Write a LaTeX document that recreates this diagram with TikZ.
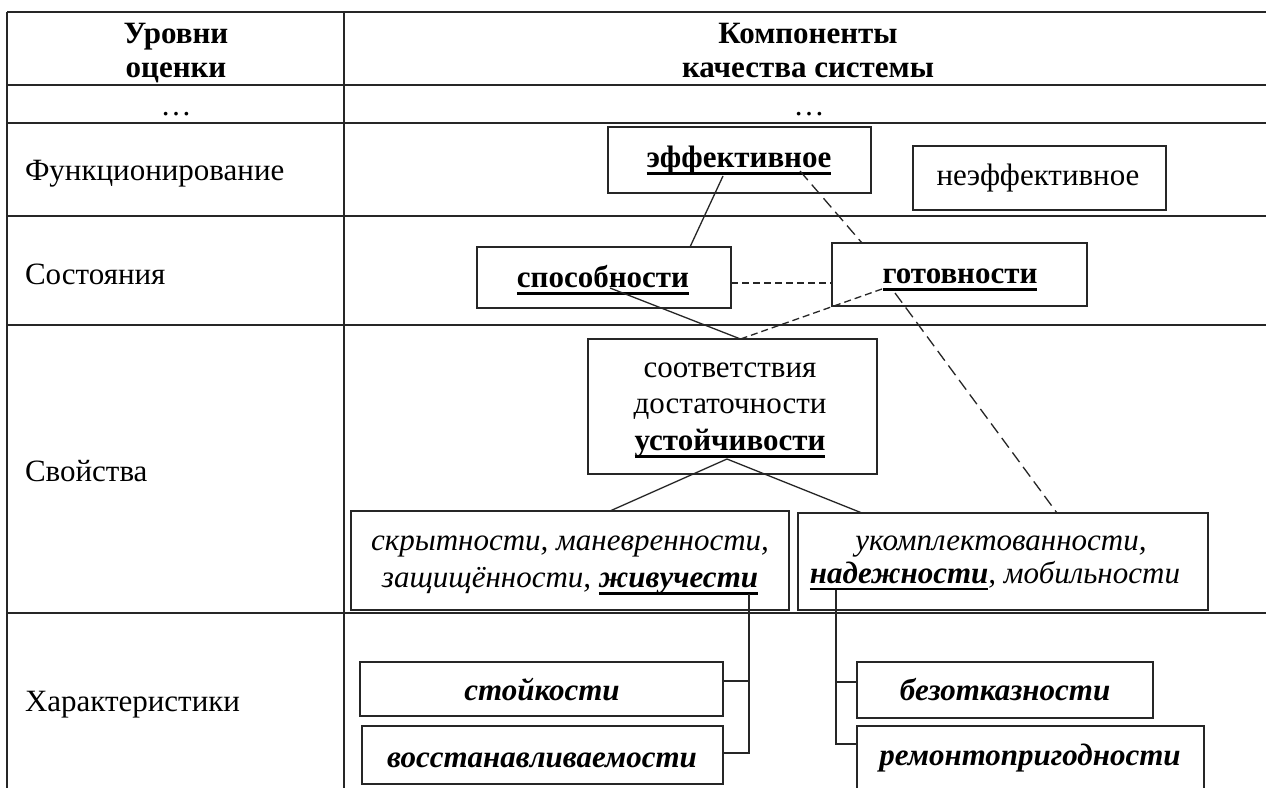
\documentclass[tikz,border=0pt]{standalone}
\usepackage{fontspec}
\setmainfont{Liberation Serif}
\usetikzlibrary{calc}

% thick rule under a word: #1 thickness, #2 drop below baseline, #3 text
\newcommand\ulword[3]{\setbox0\hbox{#3}\rlap{\rule[-#2]{\wd0}{#1}}\box0}
\newcommand\ulb[1]{\ulword{3pt}{7.5pt}{\textbf{#1}}}

\begin{document}
\begin{tikzpicture}[x=1pt,y=-1pt,
  every node/.style={font=\fontsize{31}{36}\selectfont, inner sep=0pt, outer sep=0pt},
  txt/.style={anchor=base},
  lbl/.style={anchor=base west},
  grid/.style={line width=2pt, draw=black!85},
  box/.style={draw=black!85, line width=1.8pt, fill=white},
  link/.style={line width=1.3pt, draw=black!85},
  longdash/.style={link, dash pattern=on 12pt off 6pt},
  shortdash/.style={link, dash pattern=on 7pt off 4pt}]

\useasboundingbox (0,0) rectangle (1266,787);
\clip (0,0) rectangle (1266,787);
\fill[white] (0,0) rectangle (1266,787);

% table grid
\foreach \yy in {12,85,123,216,325,613}
  \draw[grid] (7,\yy) -- (1266,\yy);
\draw[grid] (7,12) -- (7,790);
\draw[grid] (344,12) -- (344,790);

% header
\node[txt] (hA1) at (176,43) {\textbf{Уровни}};
\node[txt] (hA2) at (176,77) {\textbf{оценки}};
\node[txt] (hB1) at (808,43) {\textbf{Компоненты}};
\node[txt] (hB2) at (808,77) {\textbf{качества системы}};
\node[txt] (dotA) at (176,115) {…};
\node[txt] (dotB) at (809,115) {…};

% level names
\node[lbl] (lvl1) at (25,180) {Функционирование};
\node[lbl] (lvl2) at (25,284) {Состояния};
\node[lbl] (lvl3) at (25,481) {Свойства};
\node[lbl] (lvl4) at (25,711) {Характеристики};

% boxes
\node[box, minimum width=263pt, minimum height=66pt] (effbox) at (739.5,160) {};
\node[box, minimum width=253pt, minimum height=64pt] (neeffbox) at (1039.5,178) {};
\node[box, minimum width=254pt, minimum height=61pt] (sposbox) at (604,277.5) {};
\node[box, minimum width=255pt, minimum height=63pt] (gotbox) at (959.5,274.5) {};
\node[box, minimum width=289pt, minimum height=135pt] (ustbox) at (732.5,406.5) {};
\node[box, minimum width=438pt, minimum height=99pt] (skrbox) at (570,560.5) {};
\node[box, minimum width=410pt, minimum height=97pt] (ukombox) at (1003,561.5) {};
\node[box, minimum width=363pt, minimum height=54pt] (stoikbox) at (541.5,689) {};
\node[box, minimum width=361pt, minimum height=58pt] (vosstbox) at (542.5,755) {};
\node[box, minimum width=296pt, minimum height=56pt] (bezbox) at (1005,690) {};
\node[box, minimum width=347pt, minimum height=66pt] (remontbox) at (1030.5,759) {};

% box texts
\node[txt] (efft) at (739,167) {\ulb{эффективное}};
\node[txt] (neefft) at (1038,185) {неэффективное};
\node[txt] (spost) at (603,287) {\ulb{способности}};
\node[txt] (gott) at (960,283) {\ulb{готовности}};
\node[txt] (ust1) at (730,377) {соответствия};
\node[txt] (ust2) at (730,413) {достаточности};
\node[txt] (ust3) at (730,450) {\ulb{устойчивости}};
\node[txt] (skr1) at (570,550) {\itshape скрытности, маневренности,};
\node[txt] (skr2) at (570,587) {\itshape защищённости, \ulb{живучести}};
\node[txt] (ukom1) at (1001,550) {\itshape укомплектованности,};
\node[txt] (ukom2) at (995,583) {\itshape \ulword{2pt}{7pt}{\textbf{надежности}}, мобильности};
\node[txt] (stoikt) at (542,700) {\itshape\bfseries стойкости};
\node[txt] (vosstt) at (542,767) {\itshape\bfseries восстанавливаемости};
\node[txt] (bezt) at (1005,700) {\itshape\bfseries безотказности};
\node[txt] (remontt) at (1030,765) {\itshape\bfseries ремонтопригодности};

% attachment points
\coordinate (ustTop) at ([xshift=8pt]ustbox.north);
\coordinate (ustBot) at ([xshift=-3pt,yshift=-9pt]ust3.base);
\coordinate (zhiv) at (749,594);
\coordinate (nadezh) at (836,590);

% links between levels
\draw[link] ([xshift=-16pt,yshift=-9pt]efft.base) -- ([xshift=86pt]sposbox.north);
\draw[longdash] ([xshift=61pt,yshift=-4pt]efft.base) -- ([xshift=-97.5pt]gotbox.north);
\draw[shortdash] ([yshift=-5.5pt]sposbox.east) -- ([yshift=-5.5pt]sposbox.east -| gotbox.west);
\draw[link] ([xshift=7pt,yshift=-1pt]spost.base) -- (ustTop);
\draw[shortdash] ([xshift=-78pt,yshift=-6pt]gott.base) -- (ustTop);
\draw[longdash] ([xshift=-65pt,yshift=-10pt]gott.base) -- ([xshift=54pt]ukombox.north);
\draw[link] (ustBot) -- ([xshift=40pt]skrbox.north);
\draw[link] (ustBot) -- ([xshift=-141pt]ukombox.north);

% characteristic brackets
\draw[link] (zhiv) |- ([yshift=2pt]vosstbox.east);
\draw[link] ([yshift=8pt]stoikbox.east) -- ([yshift=8pt]stoikbox.east -| zhiv);
\draw[link] (nadezh) |- ([yshift=15pt]remontbox.west);
\draw[link] ([yshift=8pt]bezbox.west) -- ([yshift=8pt]bezbox.west -| nadezh);
\end{tikzpicture}
\end{document}
